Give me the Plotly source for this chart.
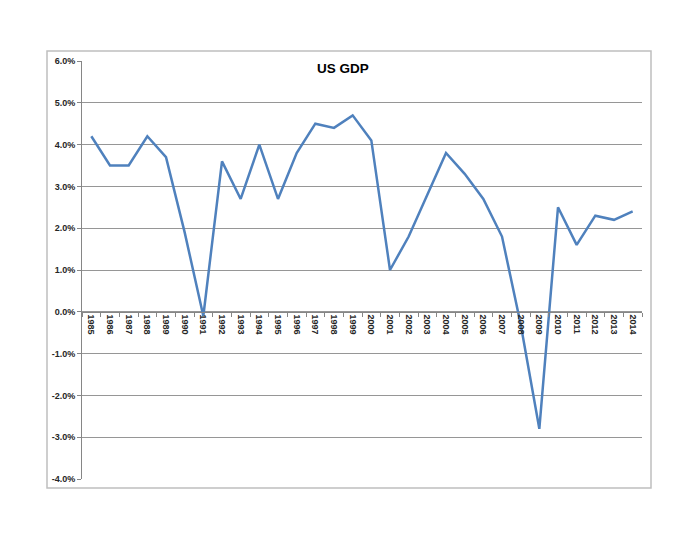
import plotly.graph_objects as go

years = [str(y) for y in range(1985, 2015)]
gdp = [4.2, 3.5, 3.5, 4.2, 3.7, 1.9, -0.1, 3.6, 2.7, 4.0, 2.7, 3.8, 4.5, 4.4, 4.7,
       4.1, 1.0, 1.8, 2.8, 3.8, 3.3, 2.7, 1.8, -0.3, -2.8, 2.5, 1.6, 2.3, 2.2, 2.4]
y_ticks = [6, 5, 4, 3, 2, 1, 0, -1, -2, -3, -4]
title = "US GDP"

OFF = 8  # body margin of the page
W, H = 700, 541
L, T = 82 - OFF, 61 - OFF
pw, ph = 560, 418
R, B = W - L - pw, H - T - ph

def px_x(p):
    return (p - OFF - L) / pw

def px_y(p):
    return (T + ph - (p - OFF)) / ph

fig = go.Figure()
fig.add_trace(go.Scatter(x=years, y=gdp, mode="lines",
                         line=dict(color="#4F81BD", width=2.5),
                         hoverinfo="x+y"))

font_fam = "Liberation Sans Narrow, Liberation Sans, Arial, sans-serif"
ymin, ymax = -4, 6
fig.update_layout(
    width=W, height=H,
    margin=dict(l=L, r=R, t=T, b=B),
    paper_bgcolor="white", plot_bgcolor="white",
    showlegend=False,
    font=dict(family=font_fam, color="#404040"),
    title=dict(text="<b>" + title + "</b>", x=px_x(350), xanchor="center",
               y=1 - (68 - OFF) / H, yanchor="middle",
               font=dict(size=13.5, color="black", family=font_fam)),
    xaxis=dict(type="category", anchor="free",
               position=(0 - ymin) / (ymax - ymin),
               tickvals=years, ticktext=["<b>" + y + "</b>" for y in years],
               showline=True, linecolor="#868686", linewidth=1,
               ticks="outside", ticklen=4, tickcolor="#868686",
               tickson="boundaries", tickangle=90,
               tickfont=dict(size=9, color="#262626"),
               showgrid=False, zeroline=False,
               range=[-0.5, len(years) - 0.5]),
    yaxis=dict(range=[ymin, ymax], tickvals=y_ticks,
               ticktext=[f"<b>{v:.1f}%</b>" for v in y_ticks],
               showline=True, linecolor="#868686", linewidth=1,
               ticks="outside", ticklen=4, tickcolor="#868686",
               showgrid=True, gridcolor="#969696", gridwidth=1,
               zeroline=False,
               tickfont=dict(size=9, color="#262626")),
)

fig.add_shape(type="rect", xref="paper", yref="paper",
              x0=px_x(47), x1=px_x(651), y0=px_y(488), y1=px_y(51),
              line=dict(color="#BFBFBF", width=1.5), layer="below")

fig.write_html("out.html")
